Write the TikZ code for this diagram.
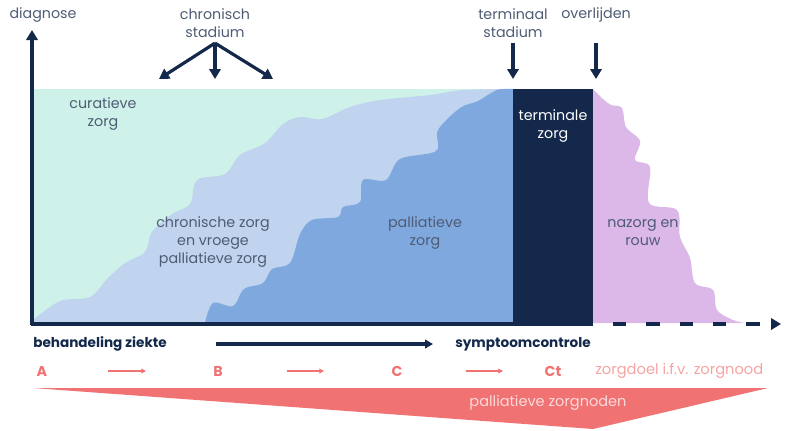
\documentclass[tikz,border=0pt]{standalone}
\usepackage{fontspec}
\setmainfont{Poppins}
\usetikzlibrary{arrows.meta,positioning}
\definecolor{navy}{HTML}{13284A}
\definecolor{labelgray}{HTML}{4E5C74}
\definecolor{mint}{HTML}{CEF2E9}
\definecolor{lightblue}{HTML}{C0D4EF}
\definecolor{midblue}{HTML}{7FA8DE}
\definecolor{lilac}{HTML}{DCB8E8}
\definecolor{salmon}{HTML}{F07272}
\definecolor{lightsalmon}{HTML}{F6A3A3}
\definecolor{pinkwhite}{HTML}{FCDADA}

\begin{document}
\begin{tikzpicture}[x=0.75pt,y=-0.75pt,
    lbl/.style={text=labelgray,font=\fontsize{10.7}{13.5}\selectfont,align=center,inner sep=0pt},
    navyarrow/.style={navy,line width=2.4pt,-{Triangle[length=7.5pt,width=8.5pt]}},
    redarrow/.style={salmon,line width=0.9pt,-{Triangle[length=3.5pt,width=3.5pt]}},
    redlbl/.style={text=salmon,font=\fontsize{10.7}{12}\selectfont\bfseries,inner sep=0pt},
    boldlbl/.style={anchor=west,text=navy,font=\fontsize{10.2}{12}\selectfont\bfseries,inner sep=0pt}]
    \useasboundingbox (0,0) rectangle (792,430);

    % zones of care
    \fill[mint] (33,89) rectangle (513,323);
    \fill[lightblue] plot[smooth,tension=0.55] coordinates {(33,320) (60,301) (90,297)
        (107,279) (125,263) (145,252) (152,232) (172,214) (190,204) (197,180)
        (225,174) (240,155) (265,143) (283,124) (300,117) (322,119) (350,107)
        (380,100) (430,95) (463,90) (513,89)} -- (513,323) -- (33,323) -- cycle;
    \fill[midblue] plot[smooth,tension=0.55] coordinates {(205,323) (213,303)
        (233,306) (244,289) (263,283) (272,269) (290,263) (300,234) (312,220)
        (338,217) (343,207) (360,202) (363,180) (386,180) (400,159) (436,151)
        (438,130) (460,108) (478,101) (497,90) (513,89)} -- (513,323) -- cycle;
    \fill[navy] (513,89) rectangle (593,323);
    \fill[lilac] plot[smooth,tension=0.55] coordinates {(593,89) (603,99) (611,105)
        (622,108) (626,127) (640,141) (635,160) (650,167) (649,203) (677,210)
        (680,237) (690,258) (695,283) (713,290) (717,310) (733,320) (745,323)}
        -- (593,323) -- cycle;

    % axes
    \draw[navy,line width=2.4pt,-{Triangle[length=7.5pt,width=8.5pt]}] (32,325) -- (32,30);
    \draw[navy,line width=2.4pt] (31,324) -- (593,324);
    \draw[navy,line width=2.8pt,dash pattern=on 10pt off 15pt,dash phase=10pt,
        -{Triangle[length=7.5pt,width=8.5pt]}] (593,324) -- (781,324);

    % labels above
    \node[lbl] (diag) at (43,15) {diagnose};
    \node[lbl] (chron) at (215,23) {chronisch\\stadium};
    \node[lbl] (term) at (513,23) {terminaal\\stadium};
    \node[lbl] (overl) at (596,15) {overlijden};
    \coordinate (c1) at (159,79);
    \coordinate (c2) at (215,79);
    \coordinate (c3) at (273,79);
    \coordinate (t1) at (513,79);
    \coordinate (o1) at (596,79);
    \draw[navyarrow] ([yshift=-4pt]chron.south) -- (c1);
    \draw[navyarrow] ([yshift=-4pt]chron.south) -- (c2);
    \draw[navyarrow] ([yshift=-4pt]chron.south) -- (c3);
    \draw[navyarrow] ([yshift=-4pt]term.south) -- (t1);
    \draw[navyarrow] (overl.south |- term.south) ++(0,-4pt) coordinate (o0) -- (o1);

    % labels in the zones
    \node[lbl] (cur) at (103,114) {curatieve\\zorg};
    \node[lbl] (chr) at (213,242) {chronische zorg\\en vroege\\palliatieve zorg};
    \node[lbl] (pal) at (425,233) {palliatieve\\zorg};
    \node[lbl,text=white] (ter) at (553,126) {terminale\\zorg};
    \node[lbl] (naz) at (643,233) {nazorg en\\rouw};

    % treatment line
    \node[boldlbl] (beh) at (33,344) {behandeling ziekte};
    \node[boldlbl] (sym) at (455,344) {symptoomcontrole};
    \coordinate (b1) at (216,344);
    \coordinate (b2) at (433,344);
    \draw[navy,line width=2.4pt,-{Triangle[length=6pt,width=6.5pt]}] (b1) -- (b2);

    % care goals
    \node[redlbl] (A) at (42,371) {A};
    \node[redlbl] (B) at (218,371) {B};
    \node[redlbl] (C) at (397,371) {C};
    \node[redlbl] (Ct) at (553,371) {Ct};
    \node[anchor=west,text=lightsalmon,font=\fontsize{11}{12}\selectfont,inner sep=0pt]
        (doel) at (595,371) {zorgdoel i.f.v. zorgnood};
    \coordinate (ab1) at (108,371);
    \coordinate (ab2) at (146,371);
    \coordinate (bc1) at (287,371);
    \coordinate (bc2) at (324,371);
    \coordinate (cc1) at (466,371);
    \coordinate (cc2) at (503,371);
    \draw[redarrow] (ab1) -- (ab2);
    \draw[redarrow] (bc1) -- (bc2);
    \draw[redarrow] (cc1) -- (cc2);

    % wedge
    \fill[salmon] (33,388) -- (768,388) -- (593,429) -- cycle;
    \node[text=pinkwhite,font=\fontsize{10.9}{12}\selectfont,inner sep=0pt]
        (nod) at (548,403) {palliatieve zorgnoden};
\end{tikzpicture}
\end{document}
